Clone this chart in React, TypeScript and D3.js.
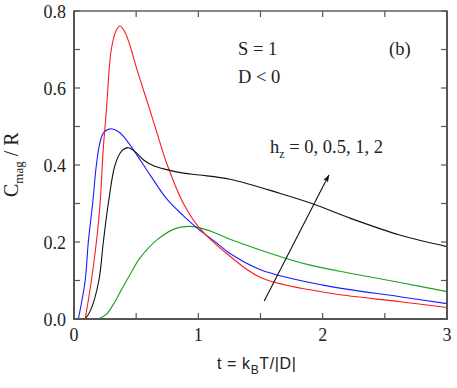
import React from "react";
import * as d3 from "d3";

const xTicks = [0, 1, 2, 3];
const xMinor = [0.5, 1.5, 2.5];
const yTicks = [0, 0.2, 0.4, 0.6, 0.8];
const yMinor = [0.1, 0.3, 0.5, 0.7];
const yTickLabels = ["0.0", "0.2", "0.4", "0.6", "0.8"];

const redT = [0.09, 0.14, 0.18, 0.21, 0.235, 0.26, 0.3, 0.34, 0.37, 0.41, 0.46, 0.5, 0.61, 0.69, 0.746, 0.88, 1.01, 1.255, 1.5, 2.0, 2.62, 3.0];
const redV = [0, 0.1, 0.2, 0.3, 0.44, 0.54, 0.7, 0.75, 0.761, 0.745, 0.7, 0.655, 0.543, 0.46, 0.404, 0.3, 0.236, 0.163, 0.108, 0.07, 0.045, 0.03];

const blueT = [0.035, 0.09, 0.115, 0.15, 0.18, 0.21, 0.24, 0.3, 0.356, 0.4, 0.477, 0.61, 0.746, 0.88, 1.01, 1.15, 1.255, 1.5, 2.0, 2.62, 3.0];
const blueV = [0, 0.1, 0.2, 0.3, 0.4, 0.46, 0.485, 0.494, 0.487, 0.474, 0.44, 0.375, 0.312, 0.268, 0.231, 0.197, 0.17, 0.128, 0.088, 0.058, 0.04];

const blackT = [0.09, 0.134, 0.2, 0.236, 0.276, 0.33, 0.38, 0.437, 0.5, 0.56, 0.64, 0.746, 0.88, 1.01, 1.255, 1.66, 1.93, 2.22, 2.62, 3.0];
const blackV = [0, 0.023, 0.1, 0.2, 0.3, 0.4, 0.435, 0.445, 0.432, 0.413, 0.398, 0.388, 0.379, 0.374, 0.363, 0.326, 0.298, 0.262, 0.218, 0.188];

const greenT = [0.195, 0.26, 0.32, 0.38, 0.45, 0.53, 0.665, 0.826, 0.96, 1.1, 1.255, 1.7, 1.9, 2.22, 2.62, 3.0];
const greenV = [0, 0.012, 0.04, 0.075, 0.115, 0.158, 0.205, 0.236, 0.24, 0.228, 0.207, 0.158, 0.14, 0.119, 0.095, 0.071];

const series = [
  { t: greenT, v: greenV, color: "#1fa01f" },
  { t: blueT, v: blueV, color: "#1a1aff" },
  { t: redT, v: redV, color: "#ff1a1a" },
  { t: blackT, v: blackV, color: "#111" },
];

const arrowFrom = [1.53, 0.047];
const arrowTo = [2.05, 0.374];

export default function App() {
  const W = 457, H = 388;
  const L = 74, R = 447, T = 11, B = 319;
  const x = d3.scaleLinear().domain([0, 3]).range([L, R]);
  const y = d3.scaleLinear().domain([0, 0.8]).range([B, T]);
  const line = d3
    .line<[number, number]>()
    .x((d) => x(d[0]))
    .y((d) => y(d[1]))
    .curve(d3.curveCatmullRom.alpha(0.5));
  const tl = 6;
  const serif = {
    fontFamily:
      "'Liberation Serif', 'Times New Roman', Times, 'Nimbus Roman', 'Noto Serif', 'DejaVu Serif', FreeSerif, serif",
  };
  const sans = { fontFamily: "'Liberation Sans', Arial, Helvetica, sans-serif" };
  const axisColor = "#555";

  return (
    <svg width={W} height={H} style={{ position: "absolute", left: 0, top: 0 }}>
      <defs>
        <marker id="ah" viewBox="0 0 12 10" refX="11" refY="5" markerWidth="8" markerHeight="6" orient="auto">
          <path d="M0,1 L12,5 L0,9 L3,5 Z" fill="#111" />
        </marker>
        <clipPath id="clip">
          <rect x={L} y={T} width={R - L} height={B - T} />
        </clipPath>
      </defs>
      <rect width={W} height={H} fill="#fff" />
      <g clipPath="url(#clip)">
        {series.map((s, i) => (
          <path
            key={i}
            d={line(s.t.map((t, j) => [t, s.v[j]] as [number, number])) || ""}
            fill="none"
            stroke={s.color}
            strokeWidth={1.1}
          />
        ))}
      </g>
      <line x1={L} y1={T} x2={R} y2={T} stroke="#111" strokeWidth={1} />
      <line x1={L} y1={T - 0.5} x2={L} y2={B + 1} stroke={axisColor} strokeWidth={2} />
      <line x1={L - 1} y1={B} x2={R + 1} y2={B} stroke={axisColor} strokeWidth={2} />
      <line x1={R} y1={T - 0.5} x2={R} y2={B + 1} stroke={axisColor} strokeWidth={2} />
      {[...xTicks, ...xMinor].map((v, i) => (
        <g key={"xt" + i}>
          <line x1={x(v)} x2={x(v)} y1={B} y2={B - tl} stroke={axisColor} strokeWidth={1.2} />
          <line x1={x(v)} x2={x(v)} y1={T} y2={T + tl} stroke={axisColor} strokeWidth={1.2} />
        </g>
      ))}
      {[...yTicks, ...yMinor].map((v, i) => (
        <g key={"yt" + i}>
          <line x1={L} x2={L + tl} y1={y(v)} y2={y(v)} stroke={axisColor} strokeWidth={1.2} />
          <line x1={R} x2={R - tl} y1={y(v)} y2={y(v)} stroke={axisColor} strokeWidth={1.2} />
        </g>
      ))}
      {xTicks.map((v, i) => (
        <text key={"xl" + i} x={x(v)} y={B + 22} textAnchor="middle" style={serif} fontSize={18} fill="#222">
          {v}
        </text>
      ))}
      {yTicks.map((v, i) => (
        <text key={"yl" + i} x={L - 8} y={y(v) + 6.5} textAnchor="end" style={serif} fontSize={18} fill="#222">
          {yTickLabels[i]}
        </text>
      ))}
      <text x={217} y={369} style={sans} fontSize={16} letterSpacing={0.6} fill="#222">
        t = k<tspan fontSize={12} dy={5}>B</tspan>
        <tspan dy={-5}>T/|D|</tspan>
      </text>
      <text transform="translate(18,197) rotate(-90)" style={serif} fontSize={20} fill="#222">
        C<tspan fontSize={13} dy={5}>mag</tspan>
        <tspan dy={-5}> / R</tspan>
      </text>
      <text x={238} y={55} style={serif} fontSize={18.5} fill="#222">S = 1</text>
      <text x={238} y={83} style={serif} fontSize={18.5} fill="#222">D &lt; 0</text>
      <text x={389} y={55} style={serif} fontSize={18.5} fill="#222">(b)</text>
      <text x={270} y={153} style={serif} fontSize={18.5} fill="#222">
        h<tspan fontSize={12} dy={5}>z</tspan>
        <tspan dy={-5}> = 0, 0.5, 1, 2</tspan>
      </text>
      <line
        x1={x(arrowFrom[0])}
        y1={y(arrowFrom[1])}
        x2={x(arrowTo[0])}
        y2={y(arrowTo[1])}
        stroke="#111"
        strokeWidth={1.1}
        markerEnd="url(#ah)"
      />
    </svg>
  );
}
